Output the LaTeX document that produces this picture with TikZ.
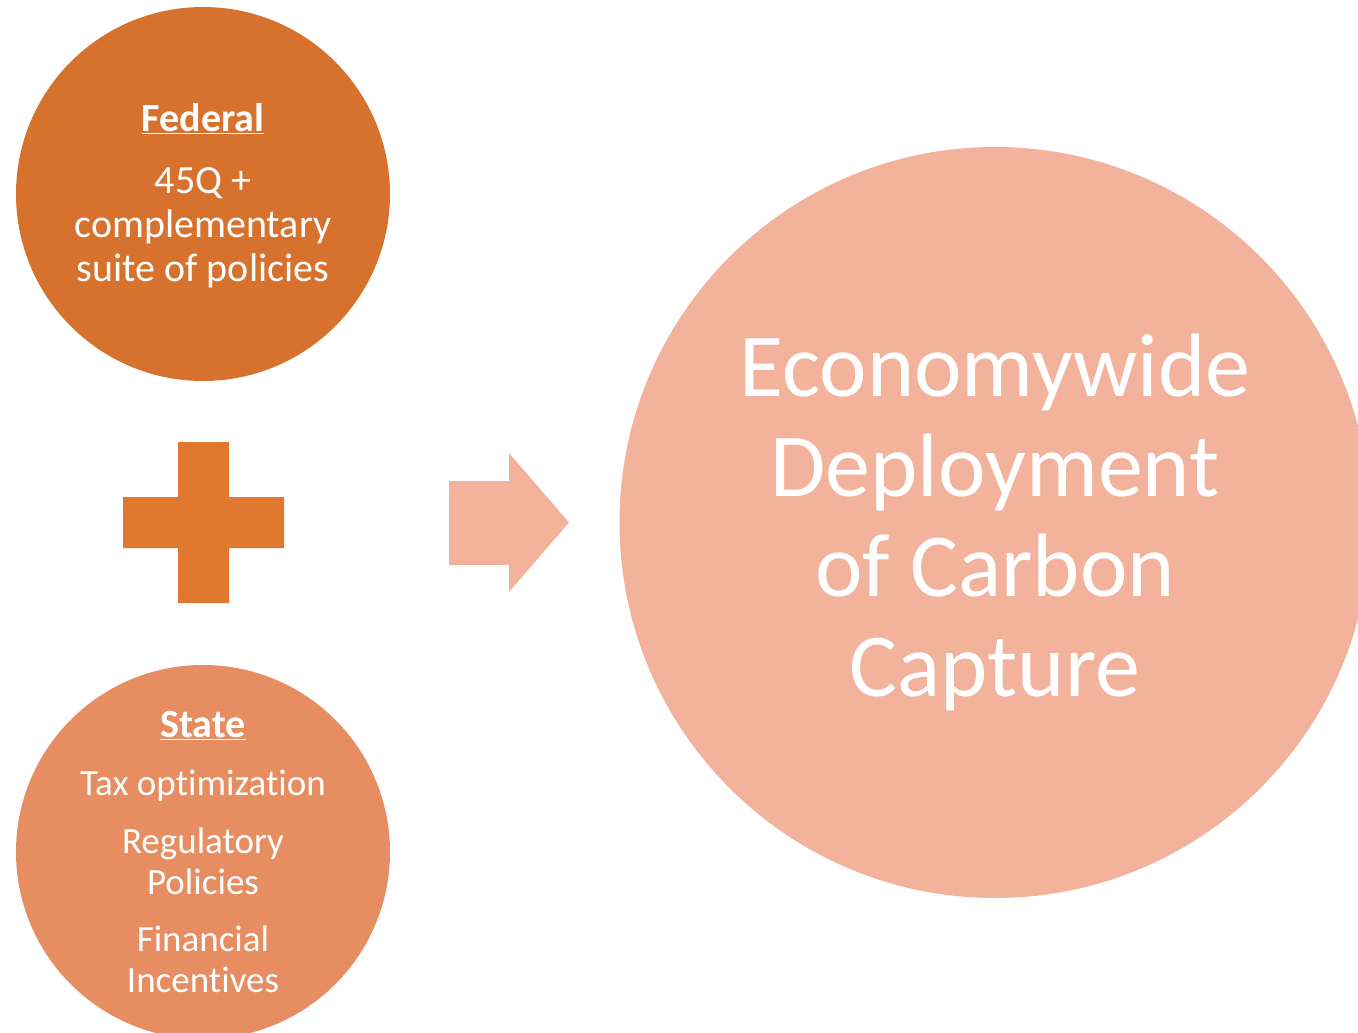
\documentclass[tikz,border=0pt]{standalone}
\usepackage{fontspec}
\setmainfont{Carlito}[Ligatures=NoCommon]
\definecolor{fedc}{RGB}{215,114,46}
\definecolor{plusc}{RGB}{225,120,48}
\definecolor{statec}{RGB}{230,141,97}
\definecolor{bigc}{RGB}{242,178,155}
\begin{document}
\begin{tikzpicture}[x=1pt,y=-1pt,
  bubble/.style={circle, inner sep=0pt, text=white, align=center}]
\useasboundingbox (0,0) rectangle (1358,1033);
\clip (0,0) rectangle (1358,1033);
\fill[fedc] (203,194) circle[radius=187];
\node[bubble, minimum size=374pt, font=\fontsize{40}{44}\selectfont] (federal) at (203,195.5)
  {{\fontsize{40}{44}\selectfont\bfseries\underline{Federal}}\\[18pt]45Q +\\complementary\\suite of policies};
\node[bubble, fill=statec, minimum size=374pt, font=\fontsize{37}{41}\selectfont] (state) at (203,852)
  {{\fontsize{40}{41}\selectfont\bfseries\underline{State}}\\[17pt]Tax optimization\\[17pt]Regulatory\\Policies\\[16pt]Financial\\Incentives};
\node[bubble, fill=bigc, minimum size=751pt, font=\fontsize{90}{100}\selectfont] (big) at (995,522.5)
  {Economywide\\Deployment\\of Carbon\\Capture};
\fill[plusc] (178,442) -- (229,442) -- (229,497) -- (284,497) -- (284,548) -- (229,548)
  -- (229,603) -- (178,603) -- (178,548) -- (123,548) -- (123,497) -- (178,497) -- cycle;
\fill[bigc] (449,481) -- (509,481) -- (509,453) -- (569,522.5) -- (509,592) -- (509,565)
  -- (449,565) -- cycle;
\end{tikzpicture}
\end{document}
